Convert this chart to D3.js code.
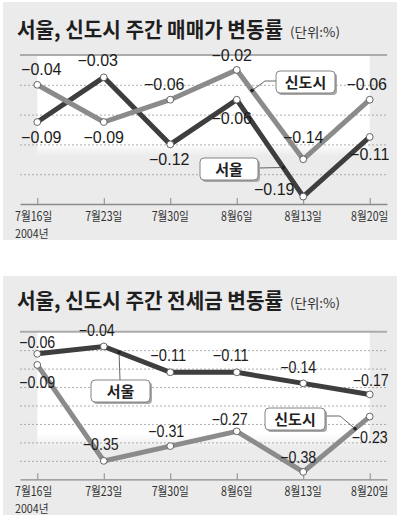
<!DOCTYPE html>
<html><head><meta charset="utf-8">
<script src="https://cdn.jsdelivr.net/npm/d3@7"></script>
<style>body{margin:0;background:#fff}svg{display:block}</style>
</head><body>
<svg id="c" width="400" height="518"></svg>
<script>
// ---------- data ----------
const dates = ["7월16일","7월23일","7월30일","8월6일","8월13일","8월20일"];
const yearLabel = "2004년";
const saleSeoul = [-0.09,-0.03,-0.12,-0.06,-0.19,-0.11];
const saleNew   = [-0.04,-0.09,-0.06,-0.02,-0.14,-0.06];
const jeonseSeoul = [-0.06,-0.04,-0.11,-0.11,-0.14,-0.17];
const jeonseNew   = [-0.09,-0.35,-0.31,-0.27,-0.38,-0.23];
const saleGrid = [-0.04,-0.08,-0.12,-0.16];
const jeonseGrid = [-0.05,-0.10,-0.15,-0.20,-0.25,-0.30,-0.35];
const titles = ["서울, 신도시 주간 매매가 변동률","서울, 신도시 주간 전세금 변동률"];
const unitLabel = "(단위:%)";
const seriesNames = ["서울","신도시"];

// ---------- layout (label offsets relative to points) ----------
const saleSeoulOff = [[4,21],[-6,-11],[-1,21],[-5,24],[-29,-2],[0,23]];
const saleNewOff   = [[4,-10],[0,21],[-6,-10],[-5,-9],[0,-16],[-3,-10]];
const jeonseSeoulOff = [[0,-6],[-7,-10],[-2,-11],[-6,-11],[-5,-10],[1,-8]];
const jeonseNewOff   = [[0,23],[-3,-11],[-4,-9],[-7,-6],[-5,-9],[0,26]];

const DARK = "#3e3e3e", GRAY = "#8b8b8b", BG = "#ebebeb";
const fmt = d3.format(".2f");
const svg = d3.select("#c");
const defs = svg.append("defs");

function panel(o){
  const g = svg.append("g");
  g.append("rect").attr("x",3).attr("y",o.top).attr("width",394).attr("height",o.h).attr("fill",BG);

  const x = d3.scalePoint().domain(dates).range([20,387]).padding(0.26);
  const y = d3.scaleLinear().domain([0,o.min]).range([o.y0,o.y1]);

  // white fading plot area
  const gid = "fade"+o.top;
  const gr = defs.append("linearGradient").attr("id",gid).attr("x1",0).attr("y1",0).attr("x2",0).attr("y2",1);
  gr.append("stop").attr("offset","0%").attr("stop-color","#fff");
  gr.append("stop").attr("offset","88%").attr("stop-color","#fff");
  gr.append("stop").attr("offset","100%").attr("stop-color",BG);
  g.append("rect").attr("x",x(dates[0])).attr("y",o.y0)
    .attr("width",x(dates[5])-x(dates[0])).attr("height",o.whiteBottom-o.y0).attr("fill",`url(#${gid})`);

  // title
  g.append("text").attr("x",17).attr("y",o.titleY).text(o.title)
    .attr("font-family","'Noto Sans CJK KR'").attr("font-weight",700).attr("font-size",21)
    .attr("fill","#1e1e1e").attr("textLength",266).attr("lengthAdjust","spacingAndGlyphs");
  g.append("text").attr("x",290).attr("y",o.titleY).text(unitLabel)
    .attr("font-family","'Noto Sans CJK KR'").attr("font-size",13).attr("fill","#333")
    .attr("textLength",50).attr("lengthAdjust","spacingAndGlyphs");

  // gridlines
  const grid = g.append("g").attr("transform","translate(20,0)")
    .call(d3.axisLeft(y).tickValues(o.grid).tickSize(-367).tickFormat(""));
  grid.select(".domain").remove();
  grid.selectAll(".tick line").attr("stroke","#9a9a9a").attr("stroke-width",0.8).attr("stroke-dasharray","2,2");

  // top solid line
  g.append("line").attr("x1",20).attr("x2",387).attr("y1",y(0)).attr("y2",y(0))
    .attr("stroke","#ababab").attr("stroke-width",2);

  // x axis
  const ax = g.append("g").attr("transform",`translate(0,${o.y1})`)
    .call(d3.axisBottom(x).tickSize(-6).tickSizeOuter(0).tickFormat(""));
  ax.select(".domain").attr("stroke","#8a8a8a").attr("stroke-width",1.3);
  ax.selectAll(".tick line").attr("stroke","#8a8a8a").attr("stroke-width",1);

  dates.forEach((d,i)=>{
    const t = g.append("text")
      .attr("transform", i===0 ? `translate(15,${o.y1+17}) scale(0.85,1)` : `translate(${x(d)},${o.y1+17}) scale(0.85,1)`)
      .attr("text-anchor", i===0 ? "start" : "middle").text(d)
      .attr("font-family","'Noto Sans CJK KR'").attr("font-size",12.5).attr("fill","#333");
  });
  g.append("text").attr("transform",`translate(15,${o.y1+34}) scale(0.93,1)`).text(yearLabel)
    .attr("font-family","'Noto Sans CJK KR'").attr("font-size",11.5).attr("fill","#333");

  const line = d3.line().x((v,i)=>x(dates[i])).y(v=>y(v));
  const series = [
    {vals:o.seoul, color:DARK, off:o.seoulOff},
    {vals:o.newt, color:GRAY, off:o.newOff}
  ];
  series.forEach(s=>{
    g.append("path").attr("d",line(s.vals)).attr("fill","none")
      .attr("stroke",s.color).attr("stroke-width",5).attr("stroke-linejoin","miter");
  });

  // callouts
  o.callouts.forEach(c=>{
    const s = c.series===0 ? o.seoul : o.newt;
    const ax0 = x(dates[c.seg]), ax1 = x(dates[c.seg+1]);
    const px = ax0 + (ax1-ax0)*c.t, py = y(s[c.seg]) + (y(s[c.seg+1])-y(s[c.seg]))*c.t;
    const pts = c.path.concat([[px,py]]);
    g.append("path").attr("d",d3.line()(pts)).attr("fill","none").attr("stroke","#555").attr("stroke-width",0.9);
    g.append("circle").attr("cx",px).attr("cy",py).attr("r",1.8).attr("fill","#222");
    g.append("rect").attr("x",c.box[0]+2).attr("y",c.box[1]+2).attr("width",c.box[2]).attr("height",c.box[3])
      .attr("rx",4).attr("fill","#a8a8a8");
    g.append("rect").attr("x",c.box[0]).attr("y",c.box[1]).attr("width",c.box[2]).attr("height",c.box[3])
      .attr("rx",4).attr("fill","#fff").attr("stroke","#777").attr("stroke-width",0.9);
    g.append("text").attr("x",c.box[0]+c.box[2]/2).attr("y",c.box[1]+c.box[3]/2+5.5)
      .attr("text-anchor","middle").text(seriesNames[c.series])
      .attr("font-family","'Noto Sans CJK KR'").attr("font-weight",700).attr("font-size",15).attr("fill","#222");
  });

  // points + labels
  series.forEach(s=>{
    g.selectAll(null).data(s.vals).join("circle")
      .attr("cx",(v,i)=>x(dates[i])).attr("cy",v=>y(v)).attr("r",3.4)
      .attr("fill","#fff").attr("stroke","#555").attr("stroke-width",0.9);
    g.selectAll(null).data(s.vals).join("text")
      .attr("x",(v,i)=>x(dates[i])+s.off[i][0]).attr("y",(v,i)=>y(v)+s.off[i][1])
      .attr("text-anchor","middle").text(v=>fmt(v))
      .attr("font-family","'Liberation Sans', Arial, sans-serif").attr("font-size",16).attr("fill","#1c1c1c")
      .each(function(){ if(o.labelLen) d3.select(this).attr("textLength",o.labelLen).attr("lengthAdjust","spacingAndGlyphs"); });
  });
}

panel({top:2,h:238,titleY:37,title:titles[0],y0:55,y1:204,whiteBottom:156,min:-0.20,grid:saleGrid,
  seoul:saleSeoul,newt:saleNew,seoulOff:saleSeoulOff,newOff:saleNewOff,labelLen:null,
  callouts:[
    {series:1,seg:3,t:0.23,box:[276,71,59,22],path:[[276,81],[265,81]]},
    {series:0,seg:3,t:0.70,box:[200,158,58,22],path:[[258,168]]}
  ]});

panel({top:276,h:239,titleY:307.5,title:titles[1],y0:331.7,y1:479.3,whiteBottom:448,min:-0.40,grid:jeonseGrid,
  seoul:jeonseSeoul,newt:jeonseNew,seoulOff:jeonseSeoulOff,newOff:jeonseNewOff,labelLen:36,
  callouts:[
    {series:0,seg:1,t:0.23,box:[91,380,59,22],path:[[120,380]]},
    {series:1,seg:4,t:0.78,box:[265,408,60,22],path:[[325,416],[340,416]]}
  ]});
</script>
</body></html>
